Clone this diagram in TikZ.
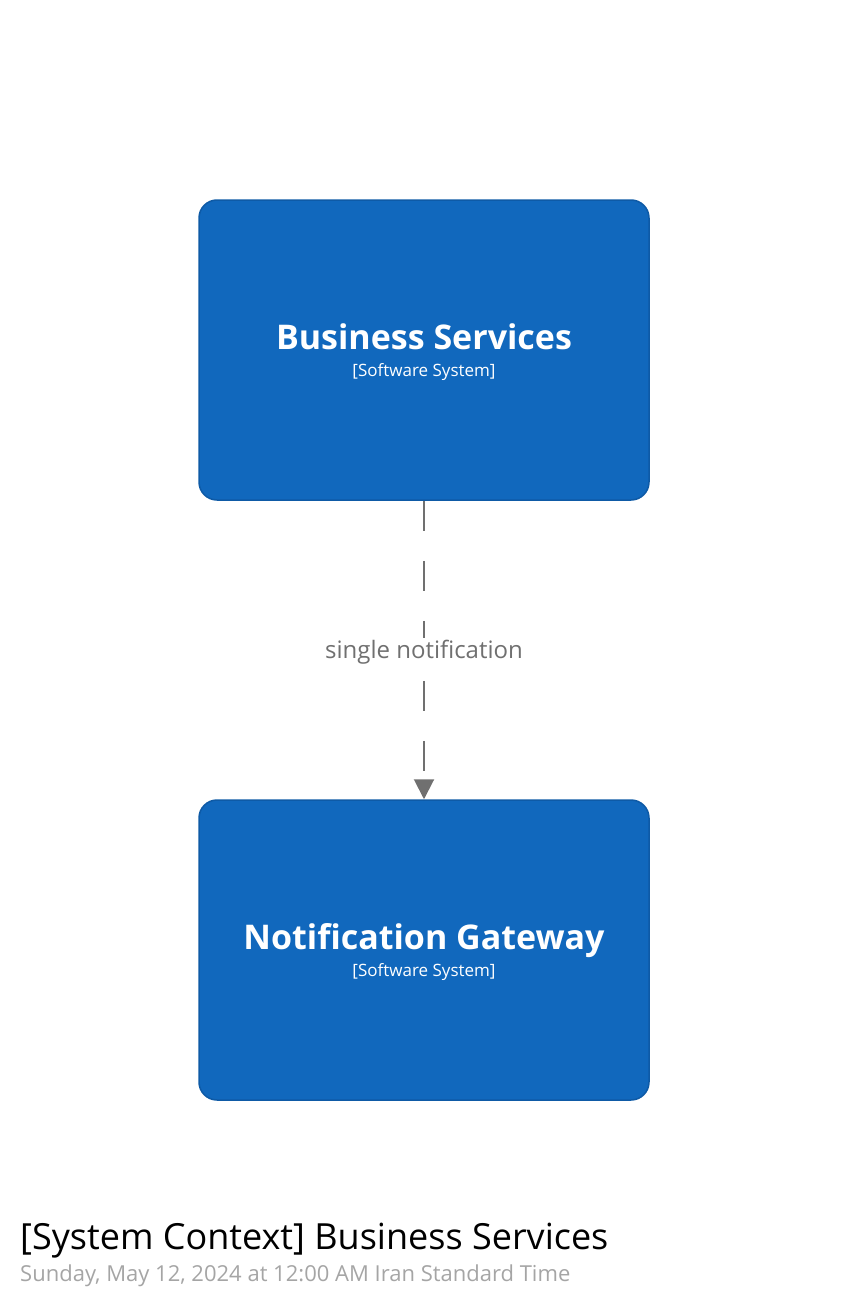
\documentclass[tikz,border=0pt]{standalone}
\usepackage{fontspec}
\setmainfont{Open Sans}
\usetikzlibrary{arrows.meta}
\definecolor{boxfill}{HTML}{1168BD}
\definecolor{boxline}{HTML}{0E5AA6}
\definecolor{linkcol}{HTML}{707070}
\definecolor{subtle}{HTML}{A5A5A5}
\tikzset{
  sysbox/.style={draw=boxline, fill=boxfill, line width=1.5pt, rounded corners=18pt,
    minimum width=450pt, minimum height=300pt, inner sep=0pt},
  sysname/.style={text=white, font=\bfseries\fontsize{34}{40}\selectfont, anchor=base},
  systype/.style={text=white, font=\fontsize{17}{20}\selectfont, anchor=base},
  link/.style={draw=linkcol, line width=2pt, dash pattern=on 30pt off 30pt,
    -{Triangle[width=20pt,length=20pt]}},
  linklabel/.style={text=linkcol, fill=white, font=\fontsize{24}{28}\selectfont, inner sep=2pt},
}
\begin{document}
\begin{tikzpicture}[x=1pt,y=-1pt]
\useasboundingbox (0,0) rectangle (850,1300);
\node[sysbox] (bs) at (424,350) {};
\node[sysname] (bsname) at (424,349) {Business Services};
\node[systype] (bstype) at (424,376) {[Software System]};
\node[sysbox] (ng) at (424,950) {};
\node[sysname] (ngname) at (424,949) {Notification Gateway};
\node[systype] (ngtype) at (424,976) {[Software System]};
\draw[link] (bs.south) -- (ng.north) node[linklabel, pos=0.5, yshift=-2pt] (lbl) {single notification};
\node[anchor=base west, inner sep=0pt, font=\fontsize{36}{42}\selectfont] (title) at (20,1249) {[System Context] Business Services};
\node[anchor=base west, inner sep=0pt, text=subtle, font=\fontsize{22}{26}\selectfont] (date) at (20,1281) {Sunday, May 12, 2024 at 12:00 AM Iran Standard Time};
\end{tikzpicture}
\end{document}
